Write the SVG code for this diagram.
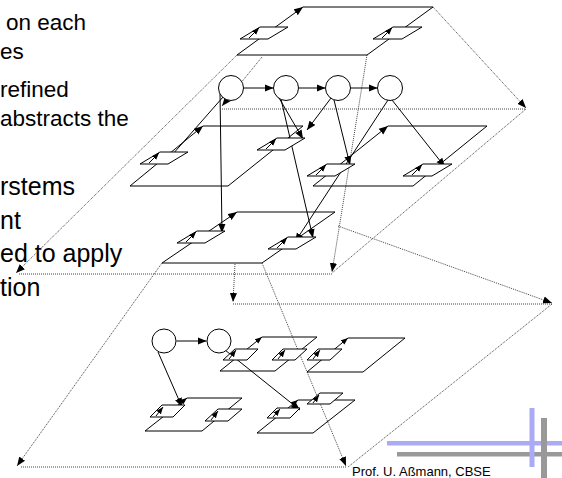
<svg xmlns="http://www.w3.org/2000/svg" width="562" height="478" viewBox="0 0 562 478">
<style>
.pl{stroke:#000;stroke-width:1;fill:none}
.sp{stroke:#000;stroke-width:1;fill:#fff}
.ln{stroke:#000;stroke-width:1;fill:none}
.dt{stroke:#444;stroke-width:1;stroke-dasharray:1 1;fill:none}
.cir{stroke:#000;stroke-width:1;fill:#fff}
.t{font-family:"Liberation Sans",Arial,sans-serif;font-size:22.5px;fill:#000}
.tb{font-family:"Liberation Sans",Arial,sans-serif;font-size:25px;fill:#000}
.ft{font-family:"Liberation Sans",Arial,sans-serif;font-size:13px;fill:#000}
</style>
<defs>
<marker id="ah" viewBox="0 0 10 8" refX="10" refY="4" markerWidth="9" markerHeight="8" markerUnits="userSpaceOnUse" orient="auto"><path d="M0,0 L10,4 L0,8 z" fill="#000"/></marker>
<marker id="as" viewBox="0 0 10 8" refX="10" refY="4" markerWidth="7" markerHeight="6" markerUnits="userSpaceOnUse" orient="auto"><path d="M0,0 L10,4 L0,8 z" fill="#000"/></marker>
</defs>
<rect width="562" height="478" fill="#fff"/>

<g id="text">
<text class="t" x="6" y="30">on each</text>
<text class="t" x="0" y="59">es</text>
<text class="t" x="0" y="97">refined</text>
<text class="t" x="0" y="126">abstracts the</text>
<text class="tb" x="0" y="195">rstems</text>
<text class="tb" x="0" y="229">nt</text>
<text class="tb" x="0" y="262">ed to apply</text>
<text class="tb" x="0" y="296">tion</text>
</g>

<g id="connectors">
<line class="dt" x1="237" y1="55" x2="16" y2="273" marker-end="url(#ah)"/>
<line class="dt" x1="262" y1="57" x2="222" y2="106" marker-end="url(#ah)"/>
<line class="dt" x1="222" y1="109" x2="526" y2="109"/>
<line class="dt" x1="433" y1="7" x2="526" y2="108" marker-end="url(#ah)"/>
<line class="dt" x1="526" y1="109" x2="332" y2="273"/>
<line class="dt" x1="367" y1="55" x2="332" y2="272" marker-end="url(#ah)"/>
<line class="dt" x1="332" y1="274" x2="18" y2="274"/>
<line class="dt" x1="235" y1="264" x2="233" y2="302" marker-end="url(#ah)"/>
<line class="dt" x1="233" y1="304" x2="552" y2="304"/>
<line class="dt" x1="338" y1="226" x2="552" y2="303" marker-end="url(#ah)"/>
<line class="dt" x1="552" y1="304" x2="348" y2="467"/>
<line class="dt" x1="262" y1="263" x2="346" y2="466" marker-end="url(#ah)"/>
<line class="dt" x1="162" y1="263" x2="17" y2="466" marker-end="url(#ah)"/>
<line class="dt" x1="346" y1="467" x2="20" y2="467"/>
<line class="ln" x1="243.5" y1="88" x2="273.5" y2="88" marker-end="url(#ah)"/>
<line class="ln" x1="298.5" y1="88" x2="325.5" y2="88" marker-end="url(#ah)"/>
<line class="ln" x1="350.5" y1="88" x2="377.5" y2="88" marker-end="url(#ah)"/>
<line class="ln" x1="223" y1="97" x2="165" y2="163" marker-end="url(#ah)"/>
<line class="ln" x1="220" y1="93" x2="222" y2="233" marker-end="url(#ah)"/>
<line class="ln" x1="279" y1="98" x2="303" y2="139" marker-end="url(#ah)"/>
<line class="ln" x1="281" y1="99" x2="313" y2="238" marker-end="url(#ah)"/>
<line class="ln" x1="331" y1="98" x2="307" y2="130" marker-end="url(#ah)"/>
<line class="ln" x1="334" y1="100" x2="350" y2="165" marker-end="url(#ah)"/>
<line class="ln" x1="388" y1="100" x2="295" y2="242" marker-end="url(#ah)"/>
<line class="ln" x1="392" y1="100" x2="445" y2="167" marker-end="url(#ah)"/>
<line class="ln" x1="176.5" y1="341" x2="206.5" y2="341" marker-end="url(#ah)"/>
<line class="ln" x1="158" y1="352" x2="182" y2="407" marker-end="url(#ah)"/>
<line class="ln" x1="225" y1="350" x2="300" y2="410" marker-end="url(#ah)"/>
</g>

<g id="plane-top">
<polyline class="pl" points="303,7 433,7 367,55 237,55"/>
<line class="ln" x1="237" y1="55" x2="303" y2="7" marker-end="url(#ah)"/>
<polygon class="sp" points="240,39 268,39 288,27 260,27"/>
<line class="ln" x1="249" y1="38" x2="259" y2="28" marker-end="url(#as)"/>
<polygon class="sp" points="373,39 402,39 422,27 393,27"/>
<line class="ln" x1="382" y1="38" x2="392" y2="28" marker-end="url(#as)"/>
</g>

<g id="circle-1"><circle class="cir" cx="231" cy="88" r="12.5"/></g>
<g id="circle-2"><circle class="cir" cx="286" cy="88" r="12.5"/></g>
<g id="circle-3"><circle class="cir" cx="338" cy="88" r="12.5"/></g>
<g id="circle-4"><circle class="cir" cx="390" cy="88" r="12.5"/></g>

<g id="plane-mid-left">
<polyline class="pl" points="203,126 303,126 228,186 130,186"/>
<line class="ln" x1="130" y1="186" x2="203" y2="126" marker-end="url(#ah)"/>
<polygon class="sp" points="140,164 168,164 188,152 160,152"/>
<line class="ln" x1="149" y1="163" x2="159" y2="153" marker-end="url(#as)"/>
<polygon class="sp" points="257,150 285,150 305,138 277,138"/>
<line class="ln" x1="266" y1="149" x2="276" y2="139" marker-end="url(#as)"/>
</g>

<g id="plane-mid-right">
<polyline class="pl" points="388,126 487,126 413,186 313,186"/>
<line class="ln" x1="313" y1="186" x2="388" y2="126" marker-end="url(#ah)"/>
<polygon class="sp" points="307,176 335,176 355,164 327,164"/>
<line class="ln" x1="316" y1="175" x2="326" y2="165" marker-end="url(#as)"/>
<polygon class="sp" points="403,176 432,176 452,164 423,164"/>
<line class="ln" x1="412" y1="175" x2="422" y2="165" marker-end="url(#as)"/>
</g>

<g id="plane-lower-mid">
<polyline class="pl" points="237,212 335,212 262,263 162,263"/>
<line class="ln" x1="162" y1="263" x2="237" y2="212" marker-end="url(#ah)"/>
<polygon class="sp" points="177,243 205,243 225,231 197,231"/>
<line class="ln" x1="186" y1="242" x2="196" y2="232" marker-end="url(#as)"/>
<polygon class="sp" points="268,249 296,249 316,237 288,237"/>
<line class="ln" x1="277" y1="248" x2="287" y2="238" marker-end="url(#as)"/>
</g>

<g id="circle-a"><circle class="cir" cx="164" cy="341" r="12"/></g>
<g id="circle-b"><circle class="cir" cx="219" cy="341" r="12"/></g>

<g id="plane-q3">
<polyline class="pl" points="262,337 317,337 275,371 220,371"/>
<line class="ln" x1="220" y1="371" x2="262" y2="337" marker-end="url(#as)"/>
<polygon class="sp" points="223,360 247,360 258,349 235,349"/>
<line class="ln" x1="229" y1="359" x2="236" y2="350" marker-end="url(#as)"/>
<polygon class="sp" points="272,360 295,360 307,349 283,349"/>
<line class="ln" x1="278" y1="359" x2="285" y2="350" marker-end="url(#as)"/>
</g>

<g id="plane-q4">
<polyline class="pl" points="348,338 405,338 363,372 307,372"/>
<line class="ln" x1="307" y1="372" x2="348" y2="338" marker-end="url(#as)"/>
<polygon class="sp" points="307,360 330,360 342,349 318,349"/>
<line class="ln" x1="313" y1="359" x2="320" y2="350" marker-end="url(#as)"/>
</g>

<g id="plane-q1">
<polyline class="pl" points="187,398 242,398 202,431 145,431"/>
<line class="ln" x1="145" y1="431" x2="187" y2="398" marker-end="url(#as)"/>
<polygon class="sp" points="150,417 173,417 185,405 162,405"/>
<line class="ln" x1="156" y1="416" x2="163" y2="407" marker-end="url(#as)"/>
<polygon class="sp" points="205,421 228,421 242,409 218,409"/>
<line class="ln" x1="211" y1="420" x2="218" y2="411" marker-end="url(#as)"/>
</g>

<g id="plane-q2">
<polyline class="pl" points="298,400 355,400 313,433 257,433"/>
<line class="ln" x1="257" y1="433" x2="298" y2="400" marker-end="url(#as)"/>
<polygon class="sp" points="267,418 290,418 300,408 277,408"/>
<line class="ln" x1="273" y1="417" x2="280" y2="409" marker-end="url(#as)"/>
<polygon class="sp" points="307,404 330,404 343,393 320,393"/>
<line class="ln" x1="313" y1="403" x2="319" y2="395" marker-end="url(#as)"/>
</g>

<g id="logo">
<rect x="387" y="441" width="175" height="4.5" fill="#aaaaf5"/>
<rect x="397" y="452" width="165" height="4.5" fill="#999"/>
<rect x="529.5" y="408" width="5" height="59" fill="#aaaaf5"/>
<rect x="541" y="418" width="6" height="60" fill="#999"/>
</g>
<text class="ft" x="352" y="476">Prof. U. Aßmann, CBSE</text>
</svg>
